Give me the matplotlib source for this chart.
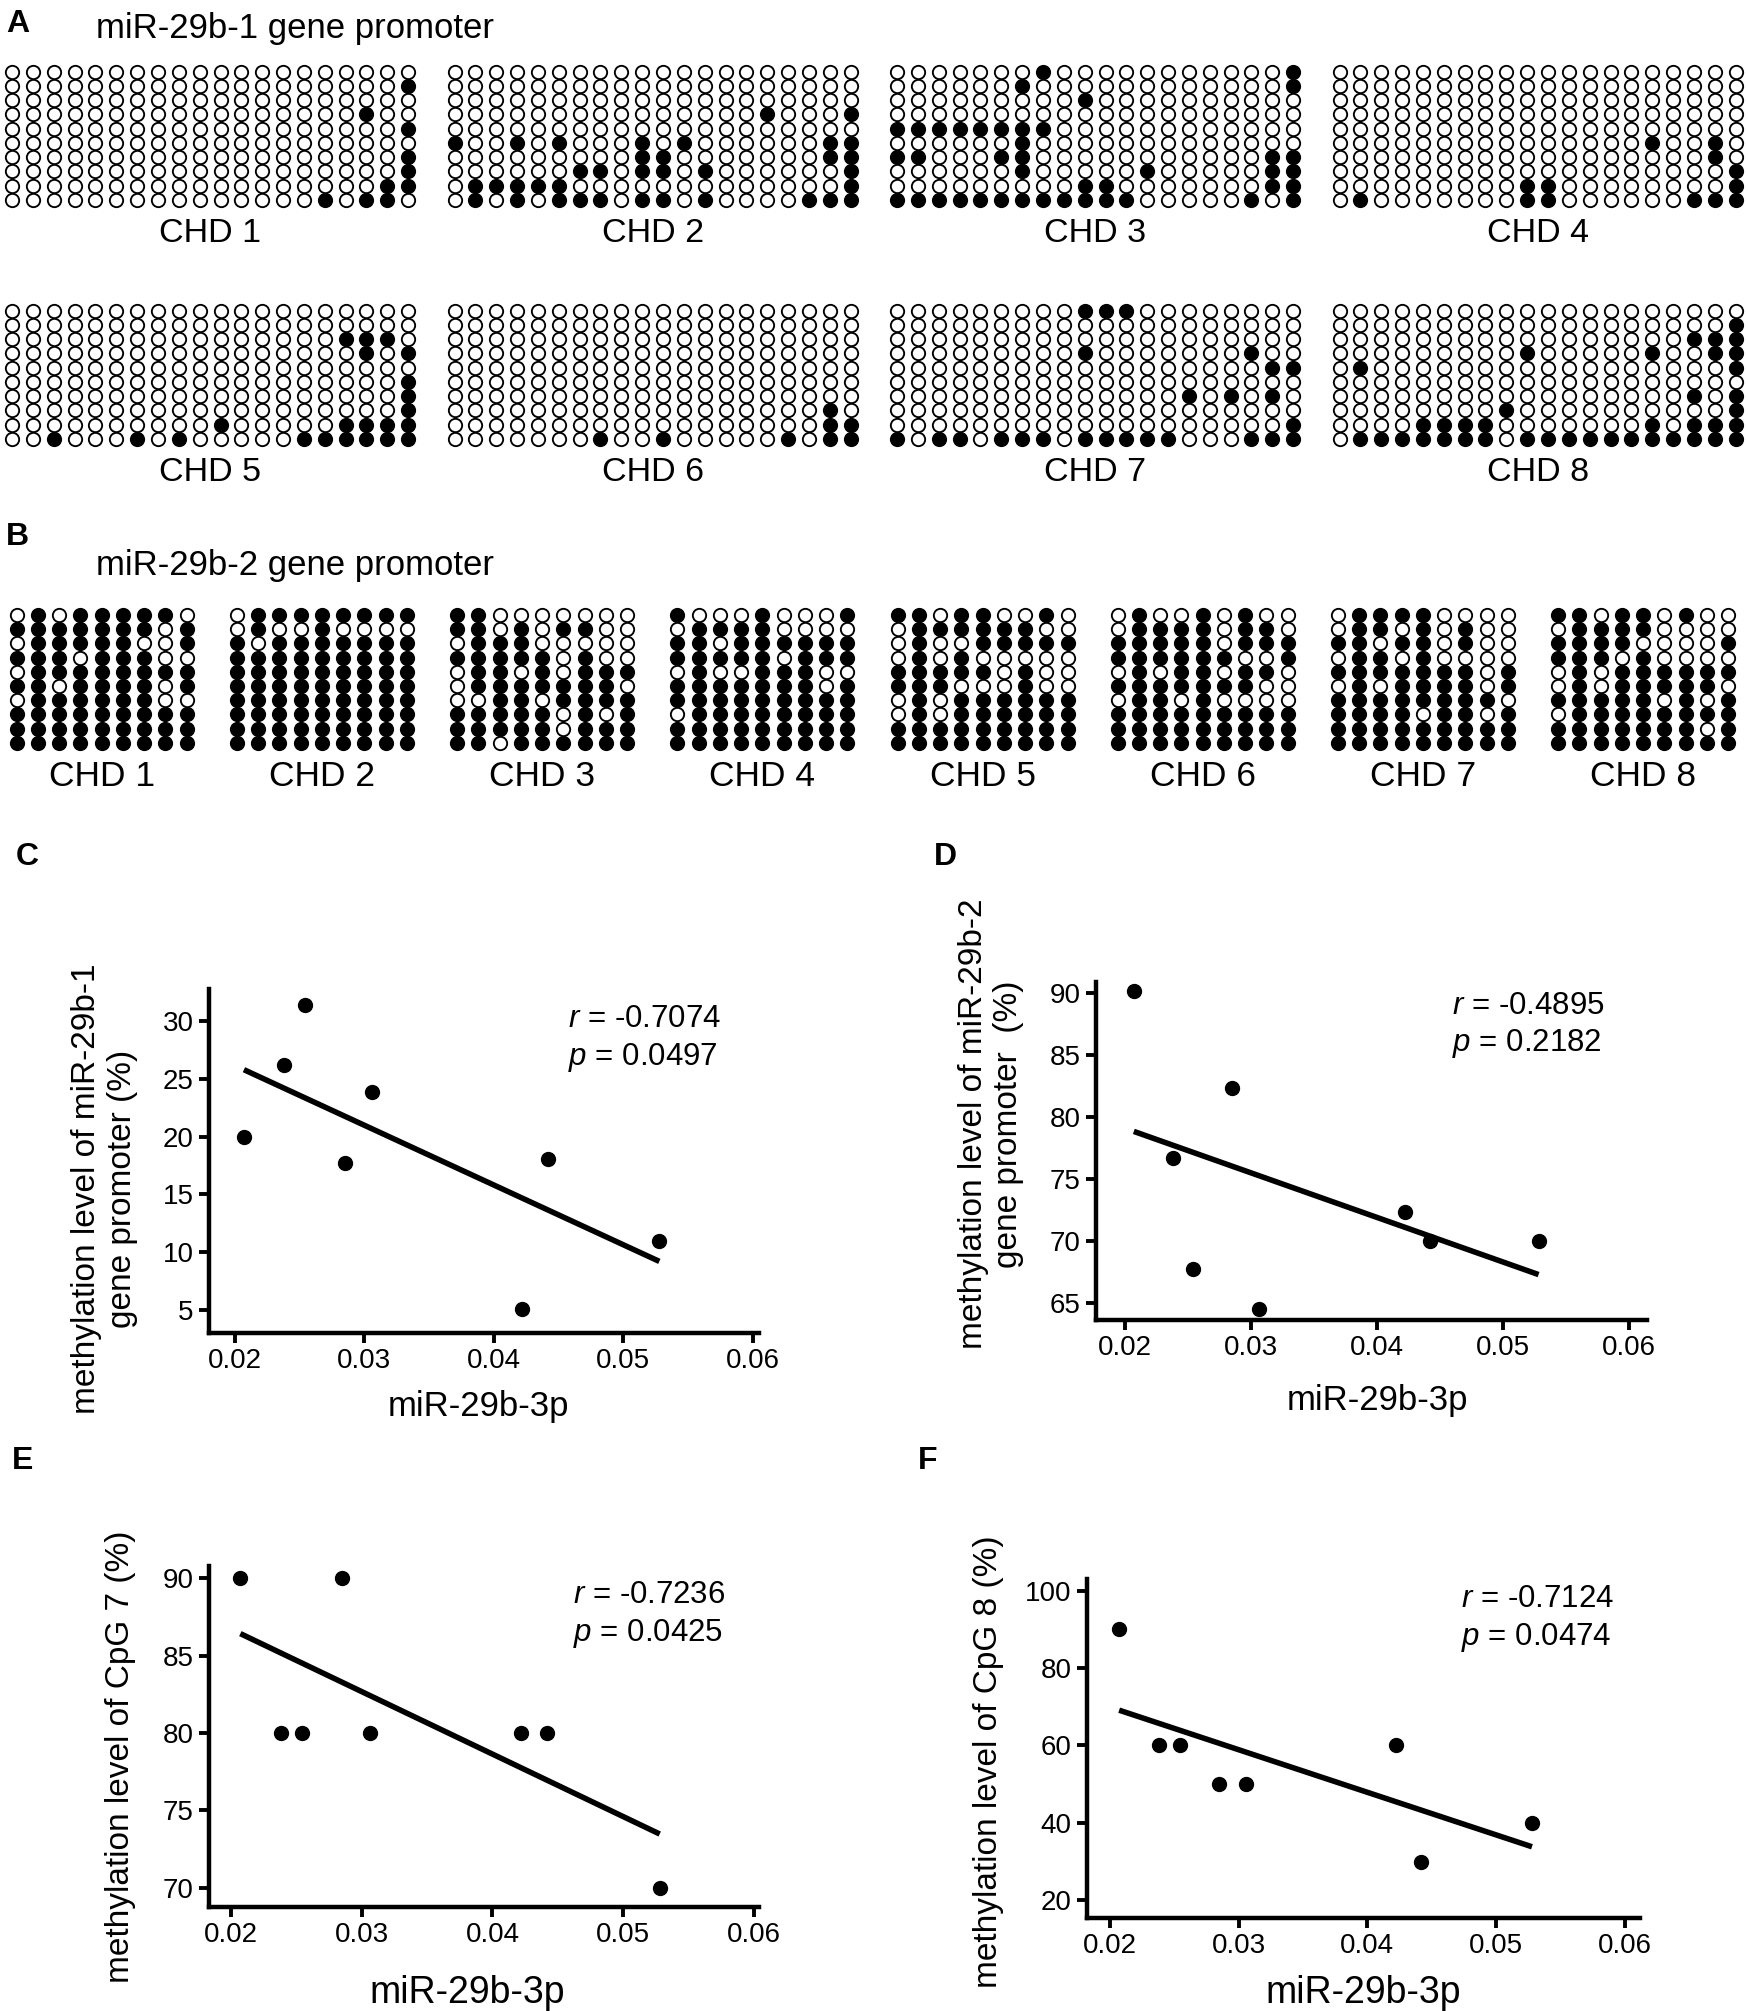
import numpy as np
import matplotlib
matplotlib.use("Agg")
import matplotlib.pyplot as plt

plt.rcParams["font.family"] = ["Liberation Sans", "DejaVu Sans"]
plt.rcParams["mathtext.fontset"] = "custom"
plt.rcParams["mathtext.it"] = "Liberation Sans:italic"
plt.rcParams["mathtext.rm"] = "Liberation Sans"

W, H = 1748, 2011

# bisulfite sequencing, miR-29b-1 promoter (1 = methylated CpG), one string per clone
a_chd1 = ["00000000000000000000", "00000000000000000001", "00000000000000000000",
          "00000000000000000100", "00000000000000000001", "00000000000000000000",
          "00000000000000000001", "00000000000000000001", "00000000000000000011",
          "00000000000000010110"]
a_chd2 = ["00000000000000000000", "00000000000000000000", "00000000000000000000",
          "00000000000000010001", "00000000000000000000", "10010100010100000011",
          "00000000011000000011", "00000011011010000001", "01111100000000000001",
          "01010111011010000111"]
a_chd3 = ["00000001000000000001", "00000010000000000001", "00000000010000000000",
          "00000000000000000000", "11111111000000000000", "00000010000000000000",
          "11000110000000000011", "00000010000010000011", "00000000011000000011",
          "11111111111100000101"]
a_chd4 = ["00000000000000000000", "00000000000000000000", "00000000000000000000",
          "00000000000000000000", "00000000000000000000", "00000000000000010010",
          "00000000000000000010", "00000000000000000001", "00000000011000000001",
          "01000000011000000111"]
a_chd5 = ["00000000000000000000", "00000000000000000000", "00000000000000001110",
          "00000000000000000101", "00000000000000000000", "00000000000000000001",
          "00000000000000000001", "00000000000000000001", "00000000001000001111",
          "00100010100000111111"]
a_chd6 = ["00000000000000000000", "00000000000000000000", "00000000000000000000",
          "00000000000000000000", "00000000000000000000", "00000000000000000000",
          "00000000000000000000", "00000000000000000010", "00000000000000000011",
          "00000001001000001011"]
a_chd7 = ["00000000011100000000", "00000000000000000000", "00000000000000000000",
          "00000000010000000100", "00000000000000000011", "00000000000000000000",
          "00000000000000101010", "00000000000000000000", "00000000000000000001",
          "10110111011111000111"]
a_chd8 = ["00000000000000000000", "00000000000000000001", "00000000000000000111",
          "00000000010000010011", "01000000000000000001", "00000000000000000000",
          "00000000000000000101", "00000000100000000001", "00001111000000010111",
          "01111111011111111111"]

# miR-29b-2 promoter
b_chd1 = ["010111110", "111111101", "011111001", "111011100", "011111111",
          "110111101", "011111100", "111111111", "111111111", "111111111"]
b_chd2 = ["011111111", "010010000", "101111111", "111111111", "111111111",
          "111111111", "111111111", "111111111", "111111111", "111111111"]
b_chd3 = ["110000000", "110101100", "011100000", "111110100", "011010111",
          "011111110", "001101111", "111110101", "111110111", "110111111"]
b_chd4 = ["100010001", "011110000", "110111111", "111110111", "010011100",
          "111111101", "111111111", "011111111", "111111111", "111111111"]
b_chd5 = ["110110010", "011111100", "010011111", "010100000", "111110100",
          "111000100", "010111111", "010111111", "111111111", "111111111"]
b_chd6 = ["010010100", "011110110", "111110111", "111111001", "010110110",
          "111111100", "011010000", "111111111", "111111111", "111111111"]
b_chd7 = ["011110000", "011010100", "110110100", "011010000", "111111101",
          "010111101", "111111110", "111101101", "111111111", "111111111"]
b_chd8 = ["110110100", "011110000", "111100001", "111010000", "010111111",
          "010111110", "111110101", "011111111", "111111101", "111111111"]

chd_names = ["CHD 1", "CHD 2", "CHD 3", "CHD 4", "CHD 5", "CHD 6", "CHD 7", "CHD 8"]

# correlation panels
mir29b_3p = np.array([0.0207, 0.0238, 0.0254, 0.0285, 0.0306, 0.0422, 0.0442, 0.0528])
meth_29b1 = np.array([20.0, 26.2, 31.4, 17.7, 23.9, 5.1, 18.1, 11.0])
meth_29b2 = np.array([90.2, 76.7, 67.7, 82.3, 64.5, 72.3, 70.0, 70.0])
meth_cpg7 = np.array([90, 80, 80, 90, 80, 80, 80, 70])
meth_cpg8 = np.array([90, 60, 60, 50, 50, 60, 30, 40])
x_ticks = [0.02, 0.03, 0.04, 0.05, 0.06]

fig = plt.figure(figsize=(W / 100, H / 100), dpi=100)
# overlay in pixel coordinates for the dot plots and free text, kept on top
ov = fig.add_axes([0, 0, 1, 1])
ov.set_xlim(0, W)
ov.set_ylim(H, 0)
ov.axis("off")
ov.set_zorder(10)
ov.patch.set_visible(False)


def draw_block(pattern, x0, y0, dx, dy, ms=9.6):
    grid = np.array([[c == "1" for c in row] for row in pattern])
    rows, cols = np.indices(grid.shape)
    xs = x0 + cols * dx
    ys = y0 + rows * dy
    ov.scatter(xs[~grid], ys[~grid], s=ms ** 2, facecolor="white",
               edgecolor="black", linewidth=1.35, zorder=2)
    ov.scatter(xs[grid], ys[grid], s=ms ** 2, facecolor="black",
               edgecolor="black", linewidth=1.35, zorder=3)
    return x0 + (grid.shape[1] - 1) * dx / 2


# panel A
ov.text(6, 24, "A", fontsize=23, fontweight="bold", va="center", ha="left")
ov.text(96, 28, "miR-29b-1 gene promoter", fontsize=25, va="center", ha="left")
a_blocks = [a_chd1, a_chd2, a_chd3, a_chd4, a_chd5, a_chd6, a_chd7, a_chd8]
for i, pat in enumerate(a_blocks):
    row, col = divmod(i, 4)
    y0 = 71.7 + row * 239
    cx = draw_block(pat, 12 + col * 442.5, y0, 20.85, 14.25)
    ov.text(cx, y0 + 162, chd_names[i], fontsize=24.5, ha="center", va="center")

# panel B
ov.text(6, 537, "B", fontsize=23, fontweight="bold", va="center", ha="left")
ov.text(96, 565, "miR-29b-2 gene promoter", fontsize=25, va="center", ha="left")
b_blocks = [b_chd1, b_chd2, b_chd3, b_chd4, b_chd5, b_chd6, b_chd7, b_chd8]
for i, pat in enumerate(b_blocks):
    cx = draw_block(pat, 16.7 + i * 220.2, 615, 21.25, 14.2)
    ov.text(cx, 776, chd_names[i], fontsize=25.5, ha="center", va="center")


def corr_panel(letter, letter_xy, box, y, xlim, ylim, yticks, ylabel, ylab_pos,
               xlab_pos, r_txt, p_txt, txt_xy, xlab_size=25):
    left, right, top, bottom = box
    ax = fig.add_axes([left / W, 1 - bottom / H, (right - left) / W, (bottom - top) / H])
    ax.scatter(mir29b_3p, y, s=100, color="black", zorder=3, clip_on=False)
    slope, icpt = np.polyfit(mir29b_3p, y, 1)
    xx = np.array([mir29b_3p.min(), mir29b_3p.max()])
    ax.plot(xx, slope * xx + icpt, color="black", lw=4.0, solid_capstyle="butt")
    ax.set_xlim(*xlim)
    ax.set_ylim(*ylim)
    ax.set_xticks(x_ticks)
    ax.set_xticklabels([f"{t:.2f}" for t in x_ticks])
    ax.set_yticks(yticks)
    for s in ["top", "right"]:
        ax.spines[s].set_visible(False)
    for s in ["left", "bottom"]:
        ax.spines[s].set_linewidth(3.2)
    ax.tick_params(direction="out", length=7, width=2.8, labelsize=20, pad=4)
    ax.set_ylabel(ylabel, fontsize=24, multialignment="center")
    ax.yaxis.set_label_coords(*ylab_pos)
    ax.set_xlabel("miR-29b-3p", fontsize=xlab_size)
    ax.xaxis.set_label_coords(*xlab_pos)
    ov.text(txt_xy[0], txt_xy[1], r_txt, fontsize=22.5, va="center", ha="left")
    ov.text(txt_xy[0], txt_xy[1] + 38, p_txt, fontsize=22.5, va="center", ha="left")
    ov.text(letter_xy[0], letter_xy[1], letter, fontsize=23, fontweight="bold",
            va="center", ha="left")
    return ax


corr_panel("C", (16, 857), (209, 759, 989, 1333), meth_29b1, (0.0180, 0.0605),
           (3.0, 32.8), [5, 10, 15, 20, 25, 30],
           "methylation level of miR-29b-1\ngene promoter (%)", (-0.13, 0.42),
           (0.49, -0.166), r"$\it{r}$ = -0.7074", r"$\it{p}$ = 0.0497", (568, 1019))
corr_panel("D", (934, 857), (1096, 1647, 982, 1320), meth_29b2, (0.0177, 0.0614),
           (63.6, 90.9), [65, 70, 75, 80, 85, 90],
           "methylation level of miR-29b-2\ngene promoter  (%)", (-0.13, 0.58),
           (0.51, -0.19), r"$\it{r}$ = -0.4895", r"$\it{p}$ = 0.2182", (1452, 1006))
corr_panel("E", (12, 1461), (209, 759, 1566, 1907), meth_cpg7, (0.0183, 0.0604),
           (68.75, 90.8), [70, 75, 80, 85, 90],
           "methylation level of CpG 7 (%)", (-0.132, 0.44),
           (0.47, -0.2), r"$\it{r}$ = -0.7236", r"$\it{p}$ = 0.0425", (573, 1595),
           xlab_size=27)
corr_panel("F", (918, 1461), (1087, 1640, 1579, 1918), meth_cpg8, (0.0182, 0.0612),
           (15.4, 103), [20, 40, 60, 80, 100],
           "methylation level of CpG 8 (%)", (-0.15, 0.46),
           (0.50, -0.168), r"$\it{r}$ = -0.7124", r"$\it{p}$ = 0.0474", (1461, 1599),
           xlab_size=27)

fig.savefig("out.png", dpi=100)
